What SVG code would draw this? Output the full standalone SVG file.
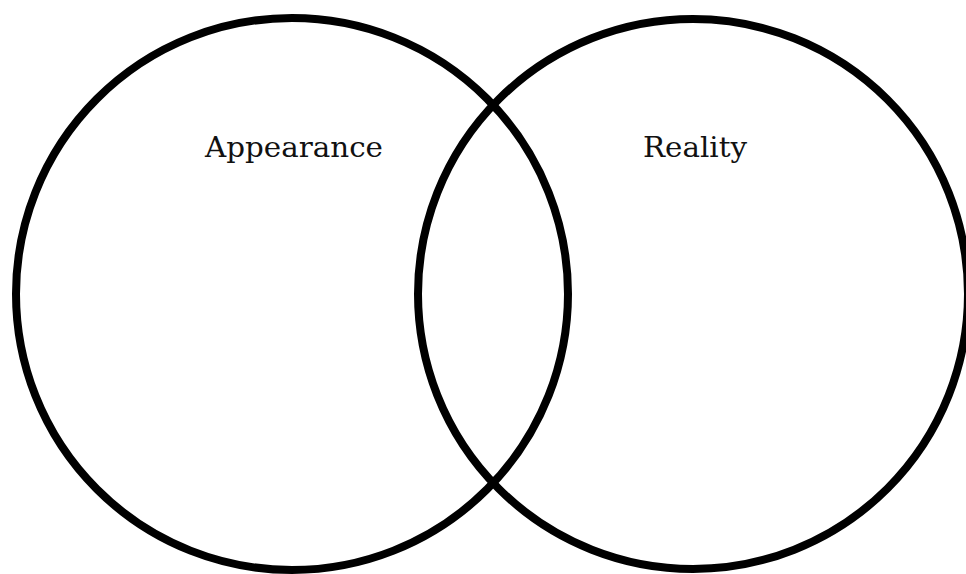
<svg xmlns="http://www.w3.org/2000/svg" width="966" height="574" viewBox="0 0 966 574">
<style>
.ring{fill:none;stroke:#000;stroke-width:8}
.lbl{font-family:"DejaVu Serif","Liberation Serif",serif;font-size:28px;fill:#111;text-anchor:middle}
</style>
<rect width="966" height="574" fill="#fff"/>
<g id="appearance">
<circle class="ring" cx="292" cy="294" r="276"/>
<text class="lbl" x="294" y="157" textLength="178" lengthAdjust="spacingAndGlyphs">Appearance</text>
</g>
<g id="reality">
<circle class="ring" cx="693" cy="294" r="275"/>
<text class="lbl" x="695" y="157" textLength="104" lengthAdjust="spacingAndGlyphs">Reality</text>
</g>
<g id="connectors"></g>
</svg>
